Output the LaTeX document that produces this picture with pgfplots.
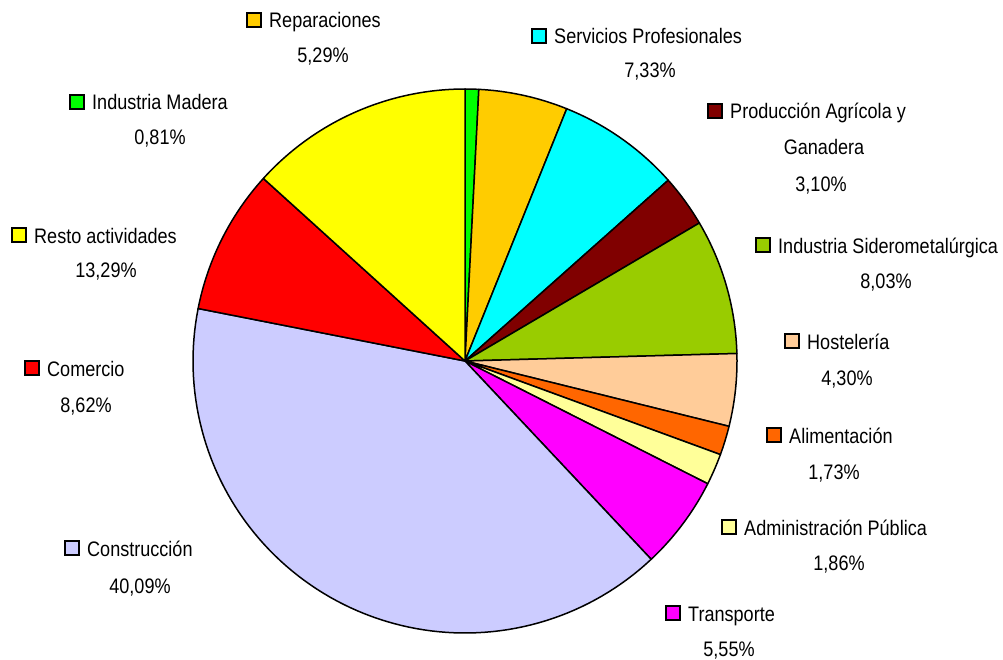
\documentclass[border=0pt]{standalone}
\usepackage{fontspec}
\setmainfont{Liberation Sans}[FakeStretch=0.86]
\usepackage{pgfplots}
\pgfplotsset{compat=1.18}

\definecolor{cMadera}{HTML}{00FF00}
\definecolor{cRepar}{HTML}{FFCC00}
\definecolor{cServ}{HTML}{00FFFF}
\definecolor{cProd}{HTML}{800000}
\definecolor{cSider}{HTML}{99CC00}
\definecolor{cHost}{HTML}{FFCC99}
\definecolor{cAlim}{HTML}{FF6600}
\definecolor{cAdmin}{HTML}{FFFF99}
\definecolor{cTrans}{HTML}{FF00FF}
\definecolor{cConst}{HTML}{CCCCFF}
\definecolor{cCom}{HTML}{FF0000}
\definecolor{cResto}{HTML}{FFFF00}

% slice: colour, cumulative share before the slice (%), share of the slice (%)
\newcommand{\slice}[3]{%
  \pgfmathsetmacro\angA{90-3.6*(#2+#3)}%
  \pgfmathsetmacro\angB{90-3.6*(#2)}%
  \edef\doslice{\noexpand\addplot[fill=#1, draw=black, line width=1.5bp, line join=round,
     domain=\angA:\angB, samples=90, variable=\noexpand\t]
     ({465+272*cos(\noexpand\t)},{361-272*sin(\noexpand\t)}) -- (axis cs:465,361) -- cycle;}%
  \doslice}

% label: square left x, baseline y, colour, name, pct centre x, pct text, pct baseline
\newcommand{\lab}[7]{%
  \draw[fill=#3, line width=1.3bp] (axis cs:#1,#2-1) rectangle (axis cs:#1+14,#2-15);
  \node[anchor=base west, inner sep=0pt] at (axis cs:#1+22,#2) {#4};
  \node[anchor=base, inner sep=0pt] at (axis cs:#5,#7) {#6};}

\begin{document}
\begin{tikzpicture}
\begin{axis}[
  x=1bp, y=1bp, y dir=reverse,
  xmin=0, xmax=1003, ymin=0, ymax=660,
  hide axis, clip=false, axis line style={draw=none},
  font=\fontsize{21bp}{25bp}\selectfont,
]
\path (axis cs:0,0) rectangle (axis cs:1003,660);
% shares in percent, clockwise from 12 o'clock
\slice{cMadera}{0}{0.81}
\slice{cRepar}{0.81}{5.29}
\slice{cServ}{6.10}{7.33}
\slice{cProd}{13.43}{3.10}
\slice{cSider}{16.53}{8.03}
\slice{cHost}{24.56}{4.30}
\slice{cAlim}{28.86}{1.73}
\slice{cAdmin}{30.59}{1.86}
\slice{cTrans}{32.45}{5.55}
\slice{cConst}{38.00}{40.09}
\slice{cCom}{78.09}{8.62}
\slice{cResto}{86.71}{13.29}

\lab{70}{110}{cMadera}{Industria Madera}{160}{0,81\%}{145}
\lab{247}{28}{cRepar}{Reparaciones}{323}{5,29\%}{63}
\lab{532}{44}{cServ}{Servicios Profesionales}{650}{7,33\%}{78}
\lab{708}{119}{cProd}{Producción Agrícola y}{821}{3,10\%}{192}
\node[anchor=base, inner sep=0pt] at (axis cs:824,155) {Ganadera};
\lab{756}{253}{cSider}{Industria Siderometalúrgica}{886}{8,03\%}{288}
\lab{785}{349}{cHost}{Hostelería}{847}{4,30\%}{385}
\lab{767}{443}{cAlim}{Alimentación}{834}{1,73\%}{479}
\lab{722}{535}{cAdmin}{Administración Pública}{839}{1,86\%}{570}
\lab{666}{621}{cTrans}{Transporte}{729}{5,55\%}{656}
\lab{65}{556}{cConst}{Construcción}{140}{40,09\%}{593}
\lab{25}{376}{cCom}{Comercio}{86}{8,62\%}{412}
\lab{12}{243}{cResto}{Resto actividades}{106}{13,29\%}{277}
\end{axis}
\end{tikzpicture}
\end{document}
